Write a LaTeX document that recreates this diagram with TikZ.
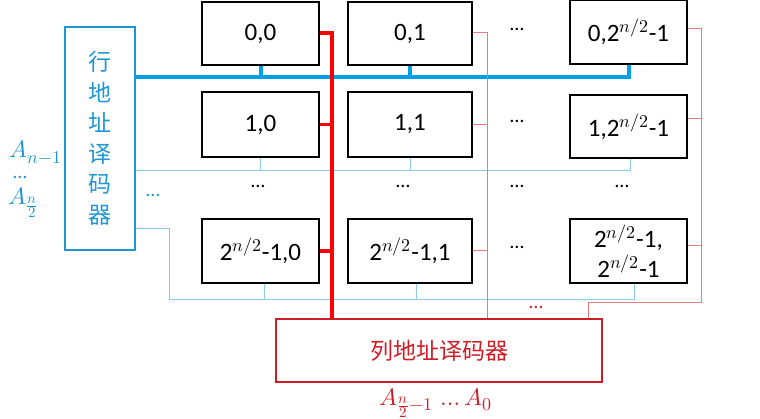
\documentclass[tikz,border=0pt]{standalone}
\usepackage{fontspec}
\usepackage{unicode-math}
\setmainfont{Carlito}
\setmathfont{Latin Modern Math}
\newfontfamily\cjk{Noto Sans CJK SC}
\DeclareMathSizes{25}{25}{18}{14}
\DeclareMathSizes{24}{24}{18}{15}
\usetikzlibrary{calc}
\definecolor{bthick}{RGB}{0,160,230}
\definecolor{btext}{RGB}{30,150,210}
\definecolor{bthin}{RGB}{140,205,235}
\definecolor{rthick}{RGB}{255,0,0}
\definecolor{pinkline}{RGB}{230,125,125}
\definecolor{decred}{RGB}{205,30,40}
\begin{document}
\begin{tikzpicture}[x=1pt,y=-1pt,
  cell/.style={draw=black,line width=1.3pt,inner sep=0pt,align=center,
    font=\fontsize{25}{30}\selectfont},
  bluebus/.style={draw=bthick,line width=4pt},
  bluewire/.style={draw=bthin,line width=1pt},
  redbus/.style={draw=rthick,line width=3.5pt},
  pinkwire/.style={draw=pinkline,line width=1pt},
  dotsb/.style={font=\fontsize{20}{20}\selectfont},
  alabel/.style={font=\fontsize{24}{24}\selectfont,inner sep=0pt},
]
\useasboundingbox (0,0) rectangle (760,419);

% row decoder
\node[draw=btext,line width=1.4pt,minimum width=70pt,minimum height=223pt,inner sep=0pt,
  text=btext,align=center,font=\cjk\fontsize{23}{30.5}\selectfont] (rowdec) at (100,138.5)
  {行\\地\\址\\译\\码\\器};

% column decoder
\node[draw=decred,line width=1.2pt,minimum width=326pt,minimum height=63pt,inner sep=0pt,
  text=decred,font=\cjk\fontsize{23}{26}\selectfont] (coldec) at (439,350.5) {列地址译码器};

% cells
\node[cell,minimum width=117pt,minimum height=63pt] (c00) at (260.5,33.5) {0,0};
\node[cell,minimum width=124pt,minimum height=63pt] (c01) at (410,33.5) {0,1};
\node[cell,minimum width=117pt,minimum height=64pt] (c0n) at (628.5,32) {0,2$^{n/2}$-1};
\node[cell,minimum width=117pt,minimum height=65pt] (c10) at (260.5,124.5) {1,0};
\node[cell,minimum width=124pt,minimum height=65pt] (c11) at (410,124.5) {1,1};
\node[cell,minimum width=117pt,minimum height=63pt] (c1n) at (628.5,126.5) {1,2$^{n/2}$-1};
\node[cell,minimum width=117pt,minimum height=64pt] (cn0) at (260.5,251) {2$^{n/2}$-1,0};
\node[cell,minimum width=124pt,minimum height=64pt] (cn1) at (410,251) {2$^{n/2}$-1,1};
\node[cell,minimum width=117pt,minimum height=64pt] (cnn) at (628.5,251) {2$^{n/2}$-1,\\2$^{n/2}$-1};

% dots
\node[dotsb] (d1) at (517,29) {…};
\node[dotsb] (d2) at (517,121) {…};
\node[dotsb] (d3) at (517,247) {…};
\node[dotsb] (d4) at (258,186) {…};
\node[dotsb] (d5) at (403,186) {…};
\node[dotsb] (d6) at (517,186) {…};
\node[dotsb] (d7) at (622,186) {…};
\node[dotsb,text=btext] (d8) at (153,195) {…};
\node[dotsb,text=decred] (d9) at (536,307) {…};

% address labels
\node[alabel,text=btext,anchor=base west] (an1) at (9,158) {$A_{n-1}$};
\node[dotsb,text=btext,inner sep=0pt] (adots) at (20,177) {…};
\node[alabel,text=btext,anchor=base west] (an2) at (8,205) {$A_{\frac{n}{2}}$};
\node[alabel,text=decred,anchor=base] (acol) at (436,405) {$A_{\frac{n}{2}-1}\,\dots A_0$};

% coordinates
\coordinate (busend) at (628.5,77);
\coordinate (wire1) at (630,171);
\coordinate (w2a) at (169,229);
\coordinate (w2b) at (169,300);
\coordinate (w2c) at (634,300);
\coordinate (rbus) at (332,33);
\coordinate (pbus) at (487,33);
\coordinate (qbus) at (701,29);
\coordinate (qcorner) at (701,303);
\coordinate (qleft) at (588,303);

% blue thick word line (row 0)
\draw[bluebus] (rowdec.east |- busend) -- (busend) -- (c0n.south);
\draw[bluebus] (c00.south) -- (c00.south |- busend);
\draw[bluebus] (c01.south) -- (c01.south |- busend);

% blue thin line row 1
\draw[bluewire] (rowdec.east |- wire1) -- (wire1) -- (c1n.south -| wire1);
\draw[bluewire] (c10.south) -- (c10.south |- wire1);
\draw[bluewire] (c11.south) -- (c11.south |- wire1);

% blue thin line last row
\draw[bluewire] (rowdec.east |- w2a) -- (w2a) -- (w2b) -- (w2c) -- (cnn.south -| w2c);
\draw[bluewire] ($(cn0.south)+(4,0)$) -- ($(cn0.south |- w2b)+(4,0)$);
\draw[bluewire] ($(cn1.south)+(6,0)$) -- ($(cn1.south |- w2b)+(6,0)$);

% red thick bit line (col 0)
\draw[redbus] (c00.east |- rbus) -- (rbus) -- (rbus |- coldec.north);
\draw[redbus] (c10.east) -- (c10.east -| rbus);
\draw[redbus] (cn0.east) -- (cn0.east -| rbus);

% pink col 1
\draw[pinkwire] (c01.east |- pbus) -- (pbus) -- (pbus |- coldec.north);
\draw[pinkwire] (c11.east) -- (c11.east -| pbus);
\draw[pinkwire] (cn1.east) -- (cn1.east -| pbus);

% pink last col
\draw[pinkwire] (c0n.east |- qbus) -- (qbus) -- (qcorner) -- (qleft) -- (qleft |- coldec.north);
\draw[pinkwire] ($(c1n.east)+(0,-8)$) -- ($(c1n.east -| qbus)+(0,-8)$);
\draw[pinkwire] ($(cnn.east)+(0,-5)$) -- ($(cnn.east -| qbus)+(0,-5)$);
\end{tikzpicture}
\end{document}
